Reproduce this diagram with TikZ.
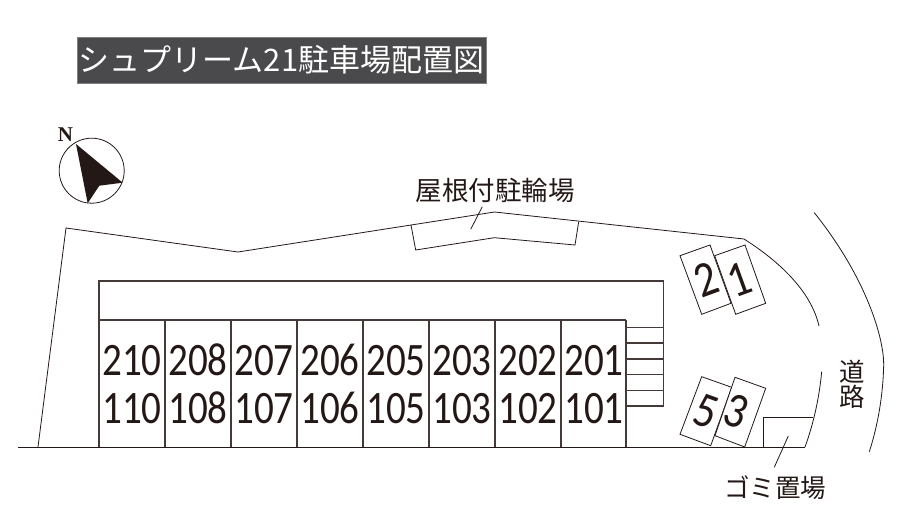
\documentclass[tikz,border=0pt]{standalone}
\usepackage{fontspec}
\setmainfont{Carlito}
\newfontfamily\cjk{Noto Sans CJK JP}
\newfontfamily\serifb{Liberation Serif}
\definecolor{ink}{HTML}{231815}
\definecolor{plate}{HTML}{4A4A4C}
\tikzset{
  wall/.style={draw=ink!85!white,line width=1.1pt,line join=miter},
  thin/.style={draw=ink,line width=0.8pt},
  unitlabel/.style={font=\fontsize{46.5}{48}\selectfont,text=ink,inner sep=0,anchor=base},
  numlabel/.style={font=\fontsize{50}{52}\selectfont,text=ink,inner sep=0},
  jplabel/.style={font=\cjk\fontsize{25.5}{30}\selectfont,text=ink,inner sep=0},
}
\newcommand{\unitnum}[1]{\scalebox{0.84}[1]{#1}}
\begin{document}
\begin{tikzpicture}[x=1pt,y=-1pt]
\useasboundingbox (0,0) rectangle (898,521);
% title
\node[fill=plate,draw=plate!70!white,line width=0.6pt,minimum width=409pt,minimum height=46pt,inner sep=0,
  text=white,font=\cjk\fontsize{31}{34}\selectfont] (title) at (281.5,60) {シュプリーム21駐車場配置図};
% compass
\draw[thin] (91.7,170.7) circle (32.5);
\fill[ink] (76,144) -- (122.7,182.7) -- (99.3,185.7) -- (87.7,203.3) -- cycle;
\node[font=\serifb\bfseries\fontsize{21}{22}\selectfont,text=ink,inner sep=0] (north) at (65.5,135) {N};
% site outline
\draw[thin] (18,447) -- (805,447);
\draw[thin] (38,447) -- (66,228) -- (238,252) -- (494.5,212) -- (744,239)
  .. controls (785,265) and (812,295) .. (819,326);
\draw[thin] (805,447) .. controls (813,425) and (819,400) .. (821.7,371.7);
% road
\draw[thin] (814.3,212.7) .. controls (868,280) and (884,340) .. (883.7,365)
  .. controls (883,395) and (878,425) .. (869.3,451.7);
% bicycle roof
\draw[thin] (411,225) -- (415.7,250) -- (494.3,237.7) -- (575,245) -- (578.7,221.7);
\node[jplabel,font=\cjk\fontsize{26.5}{30}\selectfont] (bike) at (495,190) {屋根付駐輪場};
\coordinate (bikeEnd) at (470.7,229.3);
\coordinate (bikeStart) at (482.3,206.7);
\draw[thin] (bikeStart) -- (bikeEnd);
% building
\draw[wall] (99,447) -- (99,281) -- (663.5,281) -- (663.5,406) -- (626,406);
\draw[wall] (99,320) -- (626,320);
\foreach \x in {99,165,231,297,363,429,495,561,626}
  \draw[wall] (\x,320) -- (\x,447);
\foreach \y in {327.3,343,359,374.5,390.5}
  \draw[wall] (626,\y) -- (663.5,\y);
% unit labels
\foreach \x/\a/\b in {132/210/110,198/208/108,264/207/107,330/206/106,396/205/105,462/203/103,528/202/102,594/201/101}{
  \node[unitlabel] at (\x,376) {\unitnum{\a}};
  \node[unitlabel] at (\x,423.3) {\unitnum{\b}};
}
% parking
\draw[thin,fill=white] (680,255.7) -- (710,245) -- (731,303.3) -- (701.7,314.3) -- cycle;
\draw[thin,fill=white] (714.7,255.7) -- (745,245) -- (765.7,303.3) -- (735.7,314.3) -- cycle;
\draw[thin,fill=white] (701.7,376.7) -- (731.7,387.3) -- (710.7,445.7) -- (680,434.3) -- cycle;
\draw[thin,fill=white] (735,377.3) -- (765.7,388.3) -- (744.7,447) -- (715,435.7) -- cycle;
\node[numlabel,rotate=20] (p2) at (706,280) {\scalebox{0.86}[1]{2}};
\node[numlabel,rotate=20] (p1) at (739,280) {\scalebox{0.86}[1]{1}};
\node[numlabel,rotate=-20] (p5) at (705.7,411) {\scalebox{0.86}[1]{5}};
\node[numlabel,rotate=-20] (p3) at (736.7,411.5) {\scalebox{0.86}[1]{3}};
% garbage
\draw[thin] (763.7,447) -- (763.7,417.7) -- (813.3,417.7);
\coordinate (trashEnd) at (788.3,436);
\coordinate (trashStart) at (774.3,467.3);
\draw[thin] (trashStart) -- (trashEnd);
\node[jplabel] (trash) at (775,488) {ゴミ置場};
% road label
\node[jplabel] (road1) at (852.3,371.7) {道};
\node[jplabel] (road2) at (852.3,396.7) {路};
\end{tikzpicture}
\end{document}
